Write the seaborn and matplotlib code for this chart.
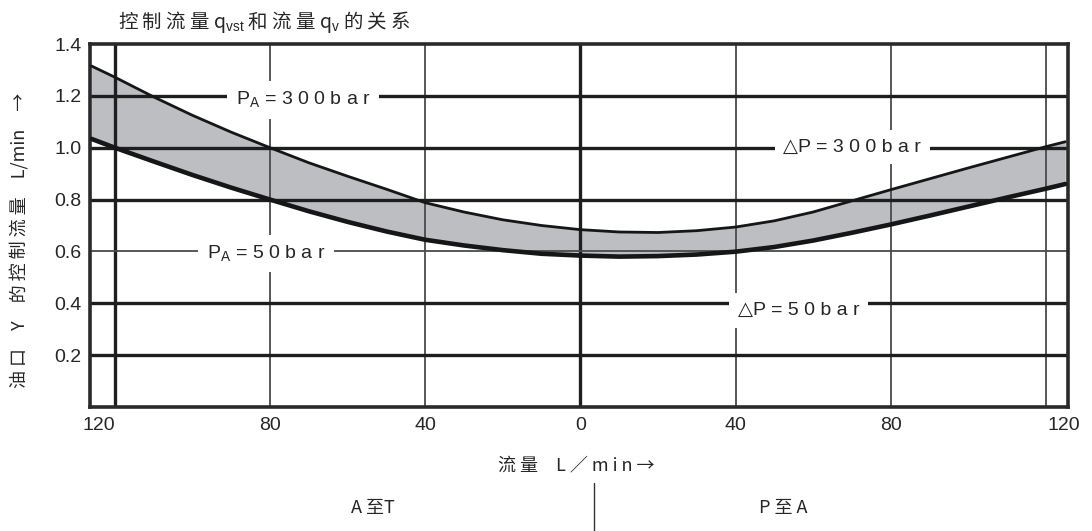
import matplotlib
matplotlib.use("Agg")
import matplotlib.pyplot as plt
from matplotlib.lines import Line2D
import pandas as pd
import seaborn as sns

# Flow through the valve, L/min (negative side: A to T, positive side: P to A)
flow = [-126, -120, -110, -100, -90, -80, -70, -60, -50, -40, -30, -20, -10,
        0, 10, 20, 30, 40, 50, 60, 70, 80, 90, 100, 110, 120, 125]
# Control flow at port Y, L/min, upper boundary (300 bar)
q_300 = [1.315, 1.272, 1.196, 1.125, 1.060, 1.000, 0.942, 0.890, 0.840, 0.788,
         0.752, 0.722, 0.700, 0.684, 0.675, 0.673, 0.680, 0.694, 0.718, 0.752,
         0.795, 0.838, 0.880, 0.922, 0.963, 1.004, 1.023]
# Control flow at port Y, L/min, lower boundary (50 bar)
q_50 = [1.034, 1.000, 0.947, 0.895, 0.846, 0.800, 0.755, 0.714, 0.677, 0.645,
        0.623, 0.605, 0.591, 0.584, 0.580, 0.582, 0.588, 0.599, 0.617, 0.642,
        0.672, 0.704, 0.738, 0.773, 0.808, 0.842, 0.860]

x_grid = [-120, -80, -40, 0, 40, 80, 120]
x_grid_heavy = [-120, 0]
y_grid = [0.2, 0.4, 0.6, 0.8, 1.0, 1.2]
y_grid_light = [0.6]
y_ticks = [0.2, 0.4, 0.6, 0.8, 1.0, 1.2, 1.4]
y_tick_labels = ["0.2", "0.4", "0.6", "0.8", "1.0", "1.2", "1.4"]
x_tick_labels = ["120", "80", "40", "0", "40", "80", "120"]

sns.set_theme(style="white")
plt.rcParams["font.family"] = ["Liberation Sans", "Noto Sans CJK SC", "DejaVu Sans"]
plt.rcParams["mathtext.fontset"] = "custom"
plt.rcParams["mathtext.rm"] = "Liberation Sans"

W, H = 1092, 531
INK = "#262626"
fig = plt.figure(figsize=(W / 100, H / 100), dpi=100)
ax = fig.add_axes([90 / W, 1 - 407 / H, (1068 - 90) / W, (407 - 44) / H])

df = pd.DataFrame({"flow": flow, "q300": q_300, "q50": q_50})
ax.fill_between(df["flow"], df["q50"], df["q300"], color="#bdbec2", lw=0, zorder=1)
sns.lineplot(data=df, x="flow", y="q300", ax=ax, color="#161616", lw=2.0, zorder=4)
sns.lineplot(data=df, x="flow", y="q50", ax=ax, color="#161616", lw=3.3, zorder=4)

# grid drawn over the band
for xv in x_grid:
    heavy = xv in x_grid_heavy
    ax.axvline(xv, color="#1e1e1e" if heavy else "#4a4a4a",
               lw=2.4 if heavy else 1.3, zorder=2)
for yv in y_grid:
    light = yv in y_grid_light
    ax.axhline(yv, color="#4a4a4a" if light else "#1e1e1e",
               lw=1.3 if light else 2.4, zorder=2)

ax.set_xlim(-126.4, 125.7)
ax.set_ylim(0, 1.4)
ax.set_yticks(y_ticks, y_tick_labels)
# outer "120" labels sit near the frame edges
ax.set_xticks([-124, -80, -40, 0, 40, 80, 124.5], x_tick_labels)
ax.tick_params(axis="both", length=0, labelsize=14, colors=INK)
ax.tick_params(axis="x", pad=7)
ax.tick_params(axis="y", pad=6)
ax.set_xlabel("")
ax.set_ylabel("")
for sp in ax.spines.values():
    sp.set_visible(True)
    sp.set_color("#2a2a2a")
    sp.set_linewidth(2.6)

box = dict(boxstyle="square,pad=0.45", fc="white", ec="none")
lab_font = ["Liberation Sans", "DejaVu Sans"]
ax.text(-71.4, 1.185, "P$_{\\mathrm{A}}$ = 3 0 0 b a r", ha="center", va="center",
        fontsize=14, color=INK, bbox=box, zorder=3, family=lab_font)
ax.text(-81.0, 0.592, "P$_{\\mathrm{A}}$ = 5 0 b a r", ha="center", va="center",
        fontsize=14, color=INK, bbox=box, zorder=3, family=lab_font)
ax.text(70.1, 1.002, "△P = 3 0 0 b a r", ha="center", va="center",
        fontsize=14, color=INK, bbox=box, zorder=3, family=lab_font)
ax.text(56.3, 0.373, "△P = 5 0 b a r", ha="center", va="center",
        fontsize=14, color=INK, bbox=box, zorder=3, family=lab_font)

cjk = ["Noto Sans CJK SC", "DejaVu Sans"]
fig.text(118 / W, 1 - 22 / H,
         "控 制 流 量 q$_{\\mathrm{vst}}$ 和 流 量 q$_{\\mathrm{v}}$ 的 关 系",
         family="Noto Sans CJK SC", fontsize=14, color=INK, ha="left", va="center")
fig.text(20 / W, 1 - 240 / H, "油 口　Y　的 控 制 流 量　L/min　→",
         family=cjk, fontsize=13, color=INK, rotation=90, ha="center", va="center")
fig.text(576 / W, 1 - 465 / H, "流 量　L ／ m i n →", family=cjk, fontsize=13,
         color=INK, ha="center", va="center")
fig.text(373 / W, 1 - 508 / H, "A 至T", family=cjk, fontsize=13,
         color=INK, ha="center", va="center")
fig.text(783 / W, 1 - 508 / H, "P 至 A", family=cjk, fontsize=13,
         color=INK, ha="center", va="center")
fig.add_artist(Line2D([594 / W, 594 / W], [0, 1 - 483 / H],
                      transform=fig.transFigure, color="#333333", lw=1.0))

fig.savefig("out.png", dpi=100)
